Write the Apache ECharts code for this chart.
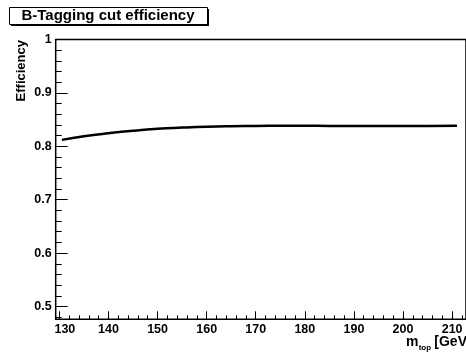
<!DOCTYPE html>
<html>
<head>
<meta charset="utf-8">
<style>
  html, body { margin: 0; padding: 0; background: #fff; }
  #chart { width: 466px; height: 352px; }
</style>
<script src="https://cdn.jsdelivr.net/npm/echarts@6/dist/echarts.min.js"></script>
</head>
<body>
<div id="chart"></div>
<script>
// Top-quark mass points [GeV] and the b-tagging cut efficiency at each
const massPoints = [130.5, 135, 140, 145, 150, 155, 160, 165, 170, 175, 180, 185, 190, 195, 200, 205, 211];
const efficiency = [0.812, 0.8188, 0.8245, 0.8292, 0.8328, 0.835, 0.8367, 0.8377, 0.8382, 0.8384, 0.8384, 0.8382, 0.838, 0.8378, 0.8378, 0.838, 0.8385];

// Axis ticks
const xMajorTicks = [130, 140, 150, 160, 170, 180, 190, 200, 210];
const xMinorTicks = [132, 134, 136, 138, 142, 144, 146, 148, 152, 154, 156, 158, 162, 164, 166, 168,
  172, 174, 176, 178, 182, 184, 186, 188, 192, 194, 196, 198, 202, 204, 206, 208, 212];
const yMajorTicks = [0.5, 0.6, 0.7, 0.8, 0.9, 1];
const yMinorTicks = [0.48, 0.52, 0.54, 0.56, 0.58, 0.62, 0.64, 0.66, 0.68, 0.72, 0.74, 0.76, 0.78,
  0.82, 0.84, 0.86, 0.88, 0.92, 0.94, 0.96, 0.98];

const X_MIN = 129.25, X_MAX = 212.83;
const Y_MIN = 0.476, Y_MAX = 1;
const FONT = "'Liberation Sans', Arial, Helvetica, sans-serif";

const chart = echarts.init(document.getElementById('chart'), null, { renderer: 'canvas' });

// one axis carries the long ticks and labels, a twin carries the short ticks
function tickAxis(pos, min, max, ticks, len, labels) {
  return {
    type: 'value', position: pos, min: min, max: max,
    axisLine: { show: false, onZero: false },
    axisTick: { show: true, inside: true, length: len, customValues: ticks,
      lineStyle: { color: '#000', width: 1 } },
    axisLabel: labels ? labels : { show: false },
    splitLine: { show: false }
  };
}

const xLabels = {
  show: true, customValues: xMajorTicks, margin: 4,
  color: '#000', fontFamily: FONT, fontWeight: 'bold', fontSize: 12.5,
  formatter: function (v) { return v === 130 ? '{first|130}' : String(v); },
  rich: { first: { padding: [0, 0, 0, 11], color: '#000', fontFamily: FONT, fontWeight: 'bold', fontSize: 12.5 } }
};
const yLabels = {
  show: true, customValues: yMajorTicks, margin: 4,
  color: '#000', fontFamily: FONT, fontWeight: 'bold', fontSize: 12.5
};

chart.setOption({
  animation: false,
  backgroundColor: '#fff',
  grid: {
    left: 55.7, right: -3, top: 39.5, bottom: 32.7, containLabel: false,
    show: true, borderColor: '#000', borderWidth: 1.5, backgroundColor: 'transparent'
  },
  xAxis: [
    tickAxis('bottom', X_MIN, X_MAX, xMajorTicks, 8, xLabels),
    tickAxis('bottom', X_MIN, X_MAX, xMinorTicks, 4, null)
  ],
  yAxis: [
    tickAxis('left', Y_MIN, Y_MAX, yMajorTicks, 12, yLabels),
    tickAxis('left', Y_MIN, Y_MAX, yMinorTicks, 6, null)
  ],
  series: [
    {
      type: 'line',
      xAxisIndex: 0, yAxisIndex: 0,
      data: massPoints.map(function (m, i) { return [m, efficiency[i]]; }),
      smooth: true,
      showSymbol: false,
      lineStyle: { color: '#000', width: 2.5 },
      z: 3
    }
  ],
  graphic: [
    // title box with drop shadow
    { type: 'rect', shape: { x: 11, y: 9, width: 198, height: 17 }, style: { fill: '#000' }, z: 10 },
    { type: 'rect', shape: { x: 9.5, y: 7.5, width: 198, height: 17 }, style: { fill: '#fff', stroke: '#000', lineWidth: 1 }, z: 11 },
    {
      type: 'text', x: 108, y: 15.8, z: 12,
      style: { text: 'B-Tagging cut efficiency', fill: '#000', font: 'bold 15px ' + FONT, align: 'center', verticalAlign: 'middle' }
    },
    // y axis title
    {
      type: 'text', x: 21, y: 40, rotation: Math.PI / 2, z: 12,
      style: { text: 'Efficiency', fill: '#000', font: 'bold 13px ' + FONT, align: 'right', verticalAlign: 'middle' }
    },
    // x axis title: m_top [GeV]
    {
      type: 'text', x: 406, y: 342, z: 12,
      style: { text: 'm', fill: '#000', font: 'bold 14px ' + FONT, align: 'left', verticalAlign: 'middle' }
    },
    {
      type: 'text', x: 418.7, y: 348, z: 12,
      style: { text: 'top', fill: '#000', font: 'bold 8px ' + FONT, align: 'left', verticalAlign: 'middle' }
    },
    {
      type: 'text', x: 434.3, y: 342, z: 12,
      style: { text: '[GeV]', fill: '#000', font: 'bold 14px ' + FONT, align: 'left', verticalAlign: 'middle' }
    }
  ]
});
</script>
</body>
</html>
